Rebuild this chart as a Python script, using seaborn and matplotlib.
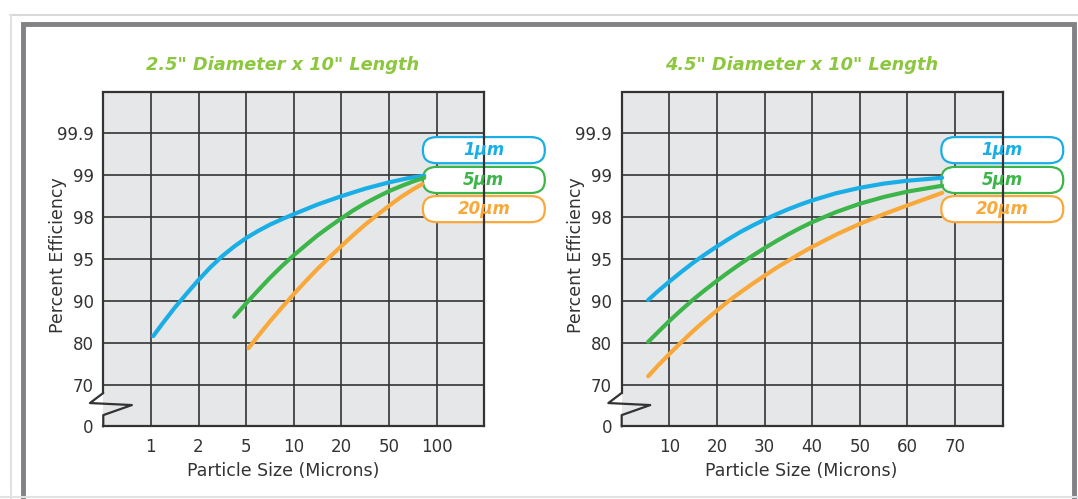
import matplotlib
matplotlib.use("Agg")
import matplotlib.pyplot as plt
from matplotlib.patches import FancyBboxPatch, Rectangle
from matplotlib.lines import Line2D
import numpy as np
import pandas as pd
import seaborn as sns

sns.set_style("white")
plt.rcParams['font.family'] = ['DejaVu Sans']

# y grid values (evenly spaced gridlines in the original), top edge = 99.99
y_grid = [0, 70, 80, 90, 95, 98, 99, 99.9, 99.99]
y_ticks = [0, 70, 80, 90, 95, 98, 99, 99.9]
y_ticklabels = ["0", "70", "80", "90", "95", "98", "99", "99.9"]

# left chart: particle size grid (evenly spaced), edges 0.5 and 200
x_grid_left = [0.5, 1, 2, 5, 10, 20, 50, 100, 200]
x_ticks_left = [1, 2, 5, 10, 20, 50, 100]
x_ticks_right = [10, 20, 30, 40, 50, 60, 70]

sizes = ["1µm", "5µm", "20µm"]
colors = {"1µm": "#1aaee6", "5µm": "#3cb54a", "20µm": "#f9a83a"}

# 2.5" Diameter x 10" Length
left_1um_x = [1.035, 1.19, 1.41, 1.68, 2, 2.51, 3.16, 3.98, 5, 5.95, 7.07, 8.41,
              10, 14.1, 20, 31.6, 50, 66, 83.5]
left_1um_y = [81.6, 84.7, 88.3, 90.85, 92.5, 94.0, 95.21, 95.9, 96.5, 97.01, 97.46,
              97.85, 98.07, 98.3, 98.5, 98.68, 98.83, 98.93, 98.99]
left_5um_x = [3.98, 5, 5.95, 7.07, 8.41, 10, 11.9, 14.1, 16.8, 20, 25.1, 31.6,
              39.8, 50, 59.5, 70.7, 83.5]
left_5um_y = [86.2, 89.4, 91.25, 92.75, 94.15, 95.27, 95.99, 96.68, 97.31, 97.91,
              98.16, 98.33, 98.48, 98.62, 98.74, 98.85, 98.94]
left_20um_x = [5.18, 5.95, 7.07, 8.41, 10, 11.9, 14.1, 16.8, 20, 25.1, 31.6, 39.8,
               50, 59.5, 70.7, 81.2]
left_20um_y = [78.7, 81.6, 85.1, 88.4, 90.8, 92.35, 93.8, 95.12, 95.93, 96.71,
               97.46, 98.05, 98.27, 98.48, 98.66, 98.79]

# 4.5" Diameter x 10" Length
right_x = [5.56, 7.5, 10, 12.5, 15, 17.5, 20, 22.5, 25, 27.5, 30, 32.5, 35, 37.5,
           40, 45, 50, 55, 60, 67.3]
right_1um_y = [90.1, 91.1, 92.3, 93.45, 94.55, 95.33, 95.9, 96.44, 96.95, 97.4,
               97.82, 98.07, 98.19, 98.3, 98.4, 98.57, 98.7, 98.8, 98.87, 98.94]
right_5um_y = [80.2, 82.4, 85.2, 87.8, 90.15, 91.3, 92.4, 93.45, 94.45, 95.24,
               95.78, 96.29, 96.77, 97.22, 97.64, 98.12, 98.32, 98.48, 98.61, 98.75]
right_20um_y = [72.0, 74.4, 77.3, 80.1, 82.8, 85.3, 87.7, 90.0, 91.05, 92.05,
                93.0, 93.95, 94.8, 95.39, 95.87, 96.74, 97.52, 98.07, 98.28, 98.58]

y_idx = np.arange(len(y_grid))


def y_fwd(v):
    return np.interp(v, y_grid, y_idx)


def y_inv(i):
    return np.interp(i, y_idx, y_grid)


lx = np.log10(x_grid_left)
x_idx = np.arange(len(x_grid_left))


def x_fwd(v):
    return np.interp(np.log10(np.clip(v, 1e-6, None)), lx, x_idx)


def x_inv(i):
    return 10 ** np.interp(i, x_idx, lx)


def make_df(xs, ys):
    rows = []
    for s, x, y in zip(sizes, xs, ys):
        for a, b in zip(x, y):
            rows.append({"size": s, "particle": a, "eff": b})
    return pd.DataFrame(rows)


df_left = make_df([left_1um_x, left_5um_x, left_20um_x],
                  [left_1um_y, left_5um_y, left_20um_y])
df_right = make_df([right_x, right_x, right_x],
                   [right_1um_y, right_5um_y, right_20um_y])

fig = plt.figure(figsize=(10.78, 4.99), dpi=100)

# outer frames
fig.add_artist(Line2D([0.009, 1.0], [0.970, 0.970], color="#d8d8d8", lw=1.5))
fig.add_artist(Line2D([0.010, 0.010], [0.0, 0.970], color="#e2e2e2", lw=1.5))
fig.add_artist(Line2D([0.0, 1.0], [0.004, 0.004], color="#e2e2e2", lw=1.5))
fig.add_artist(Rectangle((0.021, -0.05), 0.975, 1.002, fill=False,
                         edgecolor="#808285", lw=3.5))

ax1 = fig.add_axes([0.0958, 0.1453, 0.3534, 0.6713])
ax2 = fig.add_axes([0.5767, 0.1453, 0.3534, 0.6713])

titles = ['2.5" Diameter x 10" Length', '4.5" Diameter x 10" Length']

for ax, df, title in [(ax1, df_left, titles[0]), (ax2, df_right, titles[1])]:
    ax.set_facecolor("#e6e7e8")
    ax.set_yscale("function", functions=(y_fwd, y_inv))
    if ax is ax1:
        ax.set_xscale("function", functions=(x_fwd, x_inv))
        ax.set_xlim(0.5, 200)
        ax.set_xticks(x_ticks_left)
        ax.set_xticklabels([str(t) for t in x_ticks_left])
    else:
        ax.set_xlim(0, 80)
        ax.set_xticks(x_ticks_right)
        ax.set_xticklabels([str(t) for t in x_ticks_right])
    ax.set_ylim(0, 99.99)
    ax.set_yticks(y_ticks)
    ax.set_yticklabels(y_ticklabels)
    ax.minorticks_off()
    ax.grid(True, color="#333333", lw=1.2)
    ax.set_axisbelow(True)

    sns.lineplot(data=df, x="particle", y="eff", hue="size", palette=colors,
                 hue_order=sizes, ax=ax, lw=3, legend=False,
                 sort=False, estimator=None)

    ax.tick_params(axis="y", length=0, labelsize=12, colors="#333333", pad=7)
    ax.tick_params(axis="x", length=0, labelsize=12, colors="#333333", pad=8)
    ax.set_xlabel("Particle Size (Microns)", fontsize=12.5, color="#333333")
    ax.set_ylabel("Percent Efficiency", fontsize=12.5, color="#333333")
    ax.xaxis.set_label_coords(0.471, -0.105)
    ax.yaxis.set_label_coords(-0.095, 0.512)
    ax.text(0.471, 1.079, title, transform=ax.transAxes, ha="center", va="center",
            fontsize=12.8, color="#8dc63f", fontweight="bold", style="italic")

    for side in ["top", "right", "bottom"]:
        ax.spines[side].set_color("#333333")
        ax.spines[side].set_linewidth(1.6)
    ax.spines["left"].set_visible(False)
    # left spine with axis break
    kw = dict(transform=ax.transAxes, color="#333333", lw=1.6, clip_on=False)
    ax.plot([0, 0], [1, 0.1], **kw)
    ax.plot([0, -0.035, 0.075, 0, 0], [0.1, 0.07, 0.064, 0.034, 0], **kw)

    # labels in rounded boxes
    bx, bw = 0.839, 0.32
    for s, yc in zip(sizes, [0.825, 0.736, 0.649]):
        box = FancyBboxPatch((bx, yc - 0.039), bw, 0.078,
                             boxstyle="round,pad=0,rounding_size=0.037",
                             transform=ax.transAxes, facecolor="white",
                             edgecolor=colors[s], lw=1.6, clip_on=False,
                             mutation_aspect=1)
        ax.add_patch(box)
        ax.text(bx + bw / 2, yc, s, transform=ax.transAxes, ha="center",
                va="center", color=colors[s], fontsize=12, fontweight="bold",
                style="italic", clip_on=False)

fig.savefig("out.png", dpi=100)
